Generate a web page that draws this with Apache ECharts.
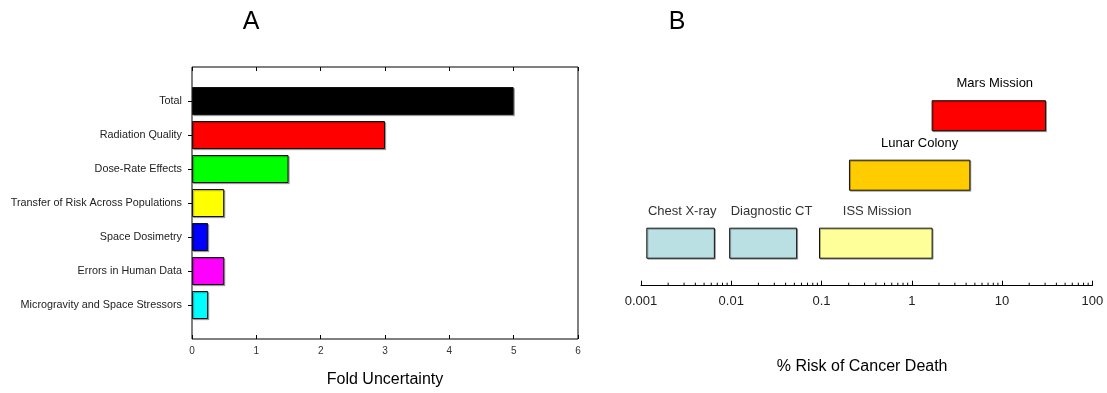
<!DOCTYPE html>
<html>
<head>
<meta charset="utf-8">
<script src="https://cdn.jsdelivr.net/npm/echarts@6/dist/echarts.min.js"></script>
<style>
html,body{margin:0;padding:0;background:#fff;}
#c{width:1107px;height:393px;}
</style>
</head>
<body>
<div id="c"></div>
<script>
// ---------- Panel A data ----------
const factorCategories = [
  'Total',
  'Radiation Quality',
  'Dose-Rate Effects',
  'Transfer of Risk Across Populations',
  'Space Dosimetry',
  'Errors in Human Data',
  'Microgravity and Space Stressors'
];
const foldUncertainty = [5, 3, 1.5, 0.5, 0.25, 0.5, 0.25];
const factorColors = ['#000000', '#ff0000', '#00ff00', '#ffff00', '#0000ff', '#ff00ff', '#00ffff'];
const foldTicks = [0, 1, 2, 3, 4, 5, 6];

// ---------- Panel B data ----------
const scenarioNames = ['Chest X-ray', 'Diagnostic CT', 'ISS Mission', 'Lunar Colony', 'Mars Mission'];
const riskLow  = [0.00116, 0.0096, 0.095, 0.204, 1.68];
const riskHigh = [0.0065, 0.053, 1.68, 4.4, 30.3];
const riskTickLabels = ['0.001', '0.01', '0.1', '1', '10', '100'];
const scenarioColors = ['#bae0e3', '#bae0e3', '#ffff99', '#ffcc00', '#ff0000'];
// layout only (row heights and label nudges)
const scenarioRow = [0.625, 0.625, 0.625, 1.625, 2.5];
const labelDx = [1.6, 8.4, 1.3, 10, 6];
const labelColor = ['#333', '#333', '#333', '#000', '#000'];

const FONT = 'Liberation Sans, Arial, sans-serif';

// categories bottom -> top with blank padding slots
const yCats = [''].concat(factorCategories.slice().reverse()).concat(['']);
const barData = ['-'].concat(foldUncertainty.map((v, i) => ({
  value: v,
  itemStyle: { color: factorColors[i] }
})).reverse()).concat(['-']);

// minor ticks for log axis
const minorTicks = [];
for (let d = 0; d < riskTickLabels.length - 1; d++) {
  const base = Number(riskTickLabels[d]);
  for (let m = 2; m <= 9; m++) minorTicks.push(base * m);
}

const chart = echarts.init(document.getElementById('c'), null, { renderer: 'canvas' });

const option = {
  animation: false,
  backgroundColor: '#fff',
  textStyle: { fontFamily: FONT },
  graphic: [
    { type: 'text', x: 251, y: 22, style: { text: 'A', font: '25px ' + FONT, fill: '#000', textAlign: 'center', textVerticalAlign: 'middle' } },
    { type: 'text', x: 677, y: 22, style: { text: 'B', font: '25px ' + FONT, fill: '#000', textAlign: 'center', textVerticalAlign: 'middle' } }
  ],
  grid: [
    { left: 192, top: 67, width: 386, height: 272, show: true, borderColor: '#000', borderWidth: 1, backgroundColor: 'transparent' },
    { left: 641, top: 47.7, width: 451.3, height: 238, show: false }
  ],
  xAxis: [
    {
      type: 'value', gridIndex: 0, position: 'bottom', min: 0, max: 6, interval: 1,
      axisLine: { show: false },
      axisTick: { show: true, inside: true, length: 4, lineStyle: { color: '#000' } },
      axisLabel: { fontSize: 10, color: '#333', margin: 7, fontFamily: FONT,
        formatter: (v) => String(foldTicks[Math.round(v)]) },
      splitLine: { show: false },
      name: 'Fold Uncertainty', nameLocation: 'middle', nameGap: 33,
      nameTextStyle: { fontSize: 16, color: '#000', fontFamily: FONT }
    },
    {
      type: 'value', gridIndex: 0, position: 'top', min: 0, max: 6, interval: 1,
      axisLine: { show: false },
      axisTick: { show: true, inside: true, length: 4, lineStyle: { color: '#000' } },
      axisLabel: { show: false },
      splitLine: { show: false }
    },
    {
      type: 'log', logBase: 10, gridIndex: 1, min: 0.001, max: 100,
      axisLine: { show: true, lineStyle: { color: '#000', width: 1 } },
      axisTick: { show: true, inside: true, length: 5, lineStyle: { color: '#000' } },
      axisLabel: { fontSize: 13, color: '#222', margin: 9, fontFamily: FONT,
        formatter: (v, i) => riskTickLabels[i] },
      splitLine: { show: false },
      minorTick: { show: false },
      name: '% Risk of Cancer Death', nameLocation: 'middle', nameGap: 73,
      nameTextStyle: { fontSize: 16, color: '#000', fontFamily: FONT, padding: [0, 9, 0, 0] }
    }
  ],
  yAxis: [
    {
      type: 'category', gridIndex: 0, data: yCats, boundaryGap: false,
      axisLine: { show: false },
      axisTick: { show: true, inside: false, length: 4, lineStyle: { color: '#000' },
        interval: (idx) => idx > 0 && idx < yCats.length - 1 },
      axisLabel: { fontSize: 10.8, color: '#222', margin: 10, fontFamily: FONT, interval: 0 },
      splitLine: { show: false }
    },
    {
      type: 'value', gridIndex: 1, min: 0, max: 3.5, show: false
    }
  ],
  series: [
    {
      type: 'bar', xAxisIndex: 0, yAxisIndex: 0, data: barData, barWidth: 28,
      itemStyle: { borderColor: '#111', borderWidth: 1, shadowColor: 'rgba(0,0,0,0.3)', shadowOffsetX: 1.2, shadowOffsetY: 1.2, shadowBlur: 0 },
      emphasis: { disabled: true },
      z: 3
    },
    {
      type: 'custom', xAxisIndex: 2, yAxisIndex: 1,
      data: scenarioNames.map((n, i) => [riskLow[i], riskHigh[i], scenarioRow[i], i]),
      renderItem: function (params, api) {
        const i = api.value(3);
        const p0 = api.coord([api.value(0), api.value(2)]);
        const p1 = api.coord([api.value(1), api.value(2)]);
        const h = 30;
        return {
          type: 'group',
          children: [
            {
              type: 'rect',
              shape: { x: p0[0], y: p0[1] - h / 2, width: p1[0] - p0[0], height: h },
              style: { fill: scenarioColors[i], stroke: '#111', lineWidth: 1,
                shadowColor: 'rgba(0,0,0,0.3)', shadowOffsetX: 1, shadowOffsetY: 1, shadowBlur: 0 }
            },
            {
              type: 'text',
              x: (p0[0] + p1[0]) / 2 + labelDx[i],
              y: p0[1] - h / 2 - 17,
              style: { text: scenarioNames[i], font: '13px ' + FONT, fill: labelColor[i],
                textAlign: 'center', textVerticalAlign: 'middle' }
            }
          ]
        };
      },
      clip: false,
      z: 3
    },
    {
      type: 'custom', xAxisIndex: 2, yAxisIndex: 1,
      data: minorTicks.map(v => [v]),
      renderItem: function (params, api) {
        const p = api.coord([api.value(0), 0]);
        return {
          type: 'line',
          shape: { x1: p[0], y1: p[1], x2: p[0], y2: p[1] - 3 },
          style: { stroke: '#000', lineWidth: 1 }
        };
      },
      clip: false,
      silent: true,
      z: 2
    }
  ]
};

chart.setOption(option);
</script>
</body>
</html>
